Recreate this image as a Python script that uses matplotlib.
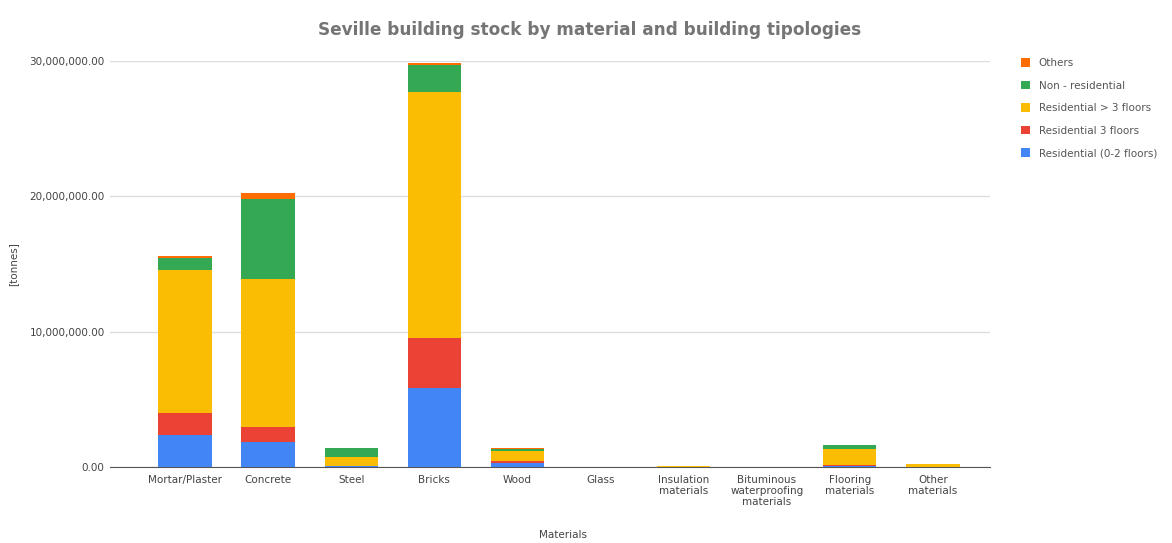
import numpy as np
from matplotlib import pyplot as plt
from matplotlib.ticker import FuncFormatter

materials = ["Mortar/Plaster", "Concrete", "Steel", "Bricks", "Wood", "Glass",
             "Insulation\nmaterials", "Bituminous\nwaterproofing\nmaterials",
             "Flooring\nmaterials", "Other\nmaterials"]

# tonnes
res_0_2 = [2.37e6, 1.87e6, 0.05e6, 5.86e6, 0.30e6, 0.005e6, 0.005e6, 0.005e6, 0.10e6, 0.02e6]
res_3 = [1.65e6, 1.10e6, 0.05e6, 3.70e6, 0.15e6, 0.002e6, 0.003e6, 0.003e6, 0.03e6, 0.01e6]
res_gt3 = [10.5e6, 10.9e6, 0.67e6, 18.1e6, 0.70e6, 0.008e6, 0.03e6, 0.02e6, 1.20e6, 0.20e6]
non_res = [0.90e6, 5.90e6, 0.61e6, 2.00e6, 0.20e6, 0.002e6, 0.005e6, 0.005e6, 0.30e6, 0.02e6]
others = [0.20e6, 0.50e6, 0.02e6, 0.20e6, 0.02e6, 0.0, 0.0, 0.0, 0.02e6, 0.0]

series = [("Residential (0-2 floors)", res_0_2, "#4285F4"),
          ("Residential 3 floors", res_3, "#EA4335"),
          ("Residential > 3 floors", res_gt3, "#FBBC04"),
          ("Non - residential", non_res, "#34A853"),
          ("Others", others, "#FF6D01")]

fig = plt.figure(figsize=(11.72, 5.43), dpi=100)
ax = fig.add_axes([0.094, 0.14, 0.751, 0.748])

x = np.arange(len(materials))
bottom = np.zeros(len(materials))
handles = []
for name, vals, col in series:
    b = ax.bar(x, vals, 0.64, bottom=bottom, color=col, label=name, zorder=3)
    handles.append(b)
    bottom += np.array(vals)

ax.set_xlim(-0.9, 9.69)
ax.set_ylim(0, 30e6)
ax.set_yticks([0, 10e6, 20e6, 30e6])
ax.yaxis.set_major_formatter(FuncFormatter(lambda v, p: "{:,.2f}".format(v)))
ax.grid(axis="y", color="#dddddd", linewidth=1, zorder=0)
for s in ["top", "right", "left"]:
    ax.spines[s].set_visible(False)
ax.spines["bottom"].set_color("#555555")
ax.tick_params(axis="both", length=0, labelsize=7.5, colors="#444444", pad=4)
ax.set_xticks(x)
ax.set_xticklabels(materials, linespacing=1.1)
ax.tick_params(axis="x", pad=6)

ax.set_xlabel("Materials", fontsize=7.5, color="#444444")
ax.xaxis.set_label_coords(0.514, -0.155)
ax.set_ylabel("[tonnes]", fontsize=7.5, color="#444444")
ax.yaxis.set_label_coords(-0.105, 0.5)
fig.text(0.503, 0.945, "Seville building stock by material and building tipologies",
         ha="center", va="center", fontsize=12.2, fontweight="bold", color="#757575")

leg = fig.legend(handles[::-1], [s[0] for s in series][::-1], loc="upper left",
                 bbox_to_anchor=(0.863, 0.91), frameon=False, fontsize=7.5,
                 handlelength=0.9, handleheight=0.9, labelspacing=1.2, handletextpad=0.8)
for t in leg.get_texts():
    t.set_color("#555555")

fig.savefig("out.png", dpi=100)
